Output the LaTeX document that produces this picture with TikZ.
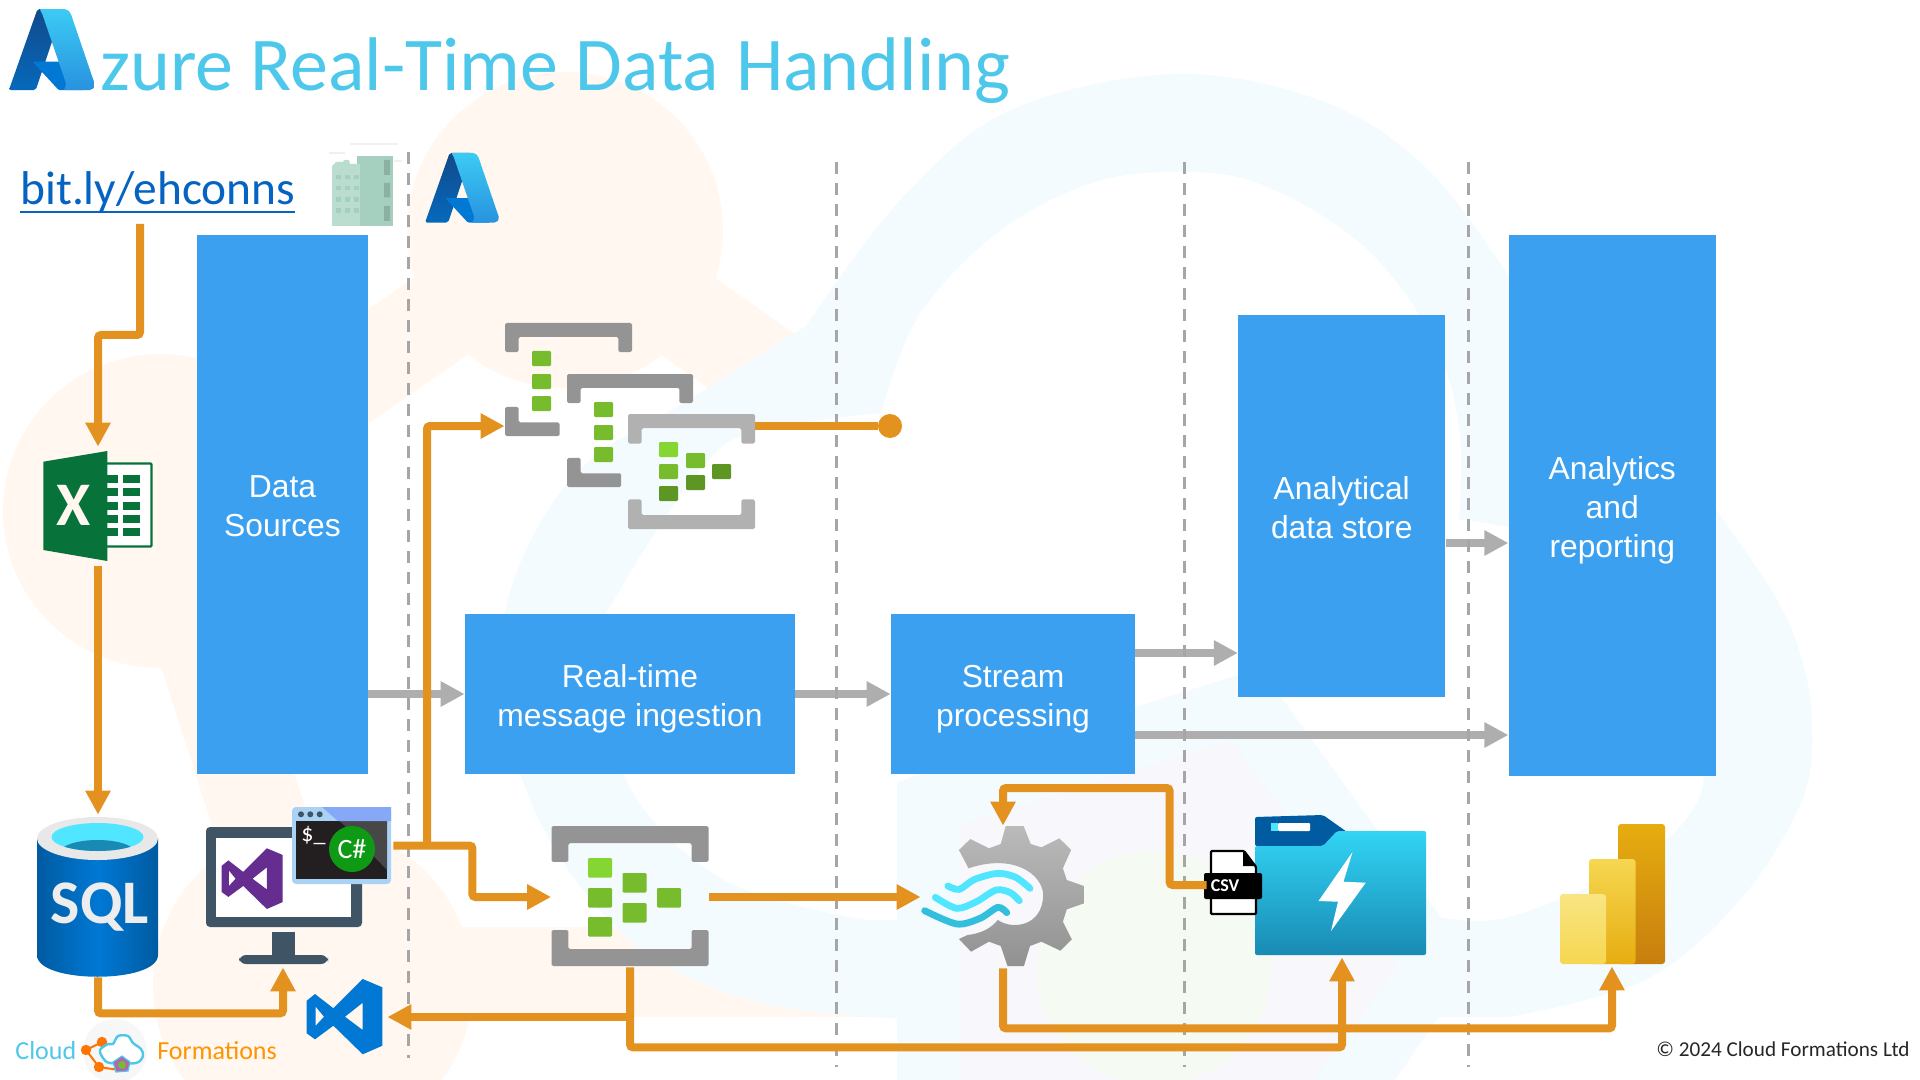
\documentclass[tikz,border=0pt]{standalone}
\usepackage{fontspec}
\usepackage{xcolor}
\usetikzlibrary{arrows.meta,calc,positioning}
\setmainfont{Carlito}
\newfontfamily\boxfont{Liberation Sans}
\definecolor{azTitle}{HTML}{4DC8EA}
\definecolor{azLink}{HTML}{0563C1}
\definecolor{azBox}{HTML}{3CA0F0}
\definecolor{azOrange}{HTML}{E39220}
\definecolor{azGrey}{HTML}{AEAEAE}
\definecolor{azDash}{HTML}{A6A6A6}
\definecolor{azPeach}{HTML}{FFF7F0}
\definecolor{azMist}{HTML}{F3FBFE}
\definecolor{azLilac}{HTML}{F8F7FC}
\definecolor{azSage}{HTML}{F5FAF2}
\definecolor{azNavy}{HTML}{114A8B}
\definecolor{azDeep}{HTML}{0669BC}
\definecolor{azCore}{HTML}{0078D4}
\definecolor{azSky}{HTML}{3CCBF4}
\definecolor{azSea}{HTML}{2892DF}
\definecolor{hubDark}{HTML}{949494}
\definecolor{hubPale}{HTML}{B1B1B1}
\definecolor{cellHi}{HTML}{86D633}
\definecolor{cellMid}{HTML}{76BC2D}
\definecolor{cellLow}{HTML}{5E9624}
\definecolor{xlGreen}{HTML}{07733B}
\definecolor{sqlEdge}{HTML}{005BA1}
\definecolor{sqlRim}{HTML}{E8E8E8}
\definecolor{azCyan}{HTML}{50E6FF}
\definecolor{azTeal}{HTML}{32BEDD}
\definecolor{deskSlate}{HTML}{3F5565}
\definecolor{vsPurple}{HTML}{652D90}
\definecolor{conFrame}{HTML}{A9D2F4}
\definecolor{conBlack}{HTML}{231F20}
\definecolor{conGreen}{HTML}{0E9A14}
\definecolor{farmTop}{HTML}{32D4F5}
\definecolor{farmLow}{HTML}{198AB3}
\definecolor{pbiA}{HTML}{E6AD10}
\definecolor{pbiB}{HTML}{C87E0E}
\definecolor{pbiC}{HTML}{F6D751}
\definecolor{pbiD}{HTML}{F9E583}
\definecolor{towerA}{HTML}{BBDDD0}
\definecolor{towerB}{HTML}{A5CFBE}
\tikzset{
 stage/.style={fill=azBox,inner sep=0pt},
 stagetext/.style={text=white,inner sep=0pt,align=center,
   font=\boxfont\fontsize{15.9}{19.5}\selectfont},
 iconspot/.style={inner sep=0pt,minimum width=#1},
 flow/.style={draw=azOrange,line width=4pt,rounded corners=1.5pt,-{Triangle[length=12pt,width=12pt]}},
 flowplain/.style={draw=azOrange,line width=4pt,rounded corners=1.5pt},
 pipe/.style={draw=azGrey,line width=4.2pt,-{Triangle[length=12pt,width=12pt]}},
 lane/.style={draw=azDash,line width=1.5pt,dash pattern=on 6pt off 4.5pt},
 dotend/.style={circle,fill=azOrange,inner sep=0pt,minimum size=12pt},
 cell/.style={rounded corners=.6pt}
}
\newcommand{\azureLogo}[3]{%
 \begin{scope}[shift={(#1,#2)},x=#3pt,y=-#3pt]
 \shade[top color=azNavy,bottom color=azDeep,rounded corners=1pt]
   (33.3,6.5)--(59.4,6.5)--(31.5,89.5)--(4,89.5)--cycle;
 \fill[azCore,rounded corners=.6pt] (71.2,60.3)--(28,60.3)--(55,89.5)--(81,89.5)--cycle;
 \shade[top color=azSky,bottom color=azSea,rounded corners=1pt]
   (35,6.5)--(63,6.5)--(67,10)--(92.5,85)--(89,89.5)--(60,89.5)--(63,84)--(37.5,9.5)--cycle;
 \end{scope}}
\newcommand{\vsLogo}[4]{%
 \begin{scope}[shift={(#1,#2)},x=#3pt,y=-#3pt]
 \fill[#4,even odd rule] (56,0)--(75.7,8.3)--(75.7,66.7)--(56,75.3)--(26.7,46.7)--(8.3,60.3)--(0,54.3)
   --(0,21.7)--(8.3,15)--(26.7,29.3)--cycle
   (9,27.7)--(17.3,37.7)--(9,46.7)--cycle (56,23.7)--(56,51)--(38.3,37.7)--cycle;
 \end{scope}}
\newcommand{\hubTop}[5]{%
 \begin{scope}[shift={(#1,#2)},x=#3pt,y=-#4pt]
 \fill[#5,rounded corners=.8pt] (0,.257)--(0,0)--(1,0)--(1,.257)--(.892,.257)--(.892,.122)--(.108,.122)--(.108,.257)--cycle;
 \end{scope}}
\newcommand{\hubBottom}[5]{%
 \begin{scope}[shift={(#1,#2)},x=#3pt,y=-#4pt]
 \fill[#5,rounded corners=.8pt] (0,.743)--(.108,.743)--(.108,.879)--(.892,.879)--(.892,.743)--(1,.743)--(1,1)--(0,1)--cycle;
 \end{scope}}
\newcommand{\hubFoot}[5]{%
 \begin{scope}[shift={(#1,#2)},x=#3pt,y=-#4pt]
 \fill[#5,rounded corners=.8pt] (0,.743)--(.108,.743)--(.108,.879)--(.43,.879)--(.43,1)--(0,1)--cycle;
 \end{scope}}
\newcommand{\linkline}[1]{\setbox0=\hbox{#1}\rlap{\rule[-4pt]{\wd0}{1.1pt}}\box0}
\begin{document}
\begin{tikzpicture}[x=.5pt,y=-.5pt]
 \useasboundingbox (0,0) rectangle (1920,1080);
 \clip (0,0) rectangle (1920,1080);
 % watermark
 \fill[azPeach] (565,230) circle[radius=79pt] (160,511) circle[radius=78.5pt] (313,985) circle[radius=80pt];
 \draw[azPeach,line width=47pt] (160,511)--(565,230)--(800,395);
 \draw[azPeach,line width=47pt] (160,511)--(313,985);
 \fill[azPeach] (313,927) rectangle (885,1017);
 \fill[azMist] plot[smooth,tension=.6] coordinates {(887,1018)(750,1000)(626,937)(530,800)(502,630)(569,481)(695,396)(806,326)}
   -- plot[smooth,tension=.6] coordinates {(806,326)(902,198)(1011,110)(1175,74)(1322,101)(1424,166)(1509,276)(1600,420)(1715,508)}
   -- plot[smooth,tension=.6] coordinates {(1715,508)(1773,593)(1800,653)(1812,723)(1802,800)(1740,900)(1645,980)(1509,1017)}
   -- (1439,1017) -- cycle;
 \fill[white] plot[smooth,tension=.6] coordinates {(881,413)(918,317)(996,234)(1089,184)(1175,172)(1260,184)(1361,244)(1431,335)(1459,427)(1459,519)}
   -- (1509,527) -- (1600,545)
   -- plot[smooth,tension=.6] coordinates {(1600,545)(1670,640)(1698,730)(1698,800)(1635,863)(1509,917)(1439,917)}
   -- (867,920)
   -- plot[smooth,tension=.6] coordinates {(867,920)(724,880)(626,780)(604,640)(620,590)(700,470)(756,431)(881,413)} -- cycle;
 \fill[azMist] (897,782)--(1260,668)--(1475,965)--(1395,1080)--(897,1080)--cycle;
 \fill[azLilac] (959,825)--(1231,740)--(1397,967)--(1315,1080)--(959,1080)--cycle;
 \fill[azSage] (1154,968) circle[radius=58.5pt];
 % title
 \azureLogo{5}{2.7}{.488}
 \node[anchor=base west,inner sep=0pt,text=azTitle,font=\fontsize{38}{38}\selectfont] (title) at (100,91) {zure Real-Time Data Handling};
 \node[anchor=base west,inner sep=0pt,text=azLink,font=\fontsize{23.7}{23.7}\selectfont] (link) at (20,205) {\linkline{bit.ly/ehconns}};
 % building
 \draw[draw=black!6,line width=1pt] (350,144)--(398,144) (329,153)--(345,153) (394,161)--(402,161);
 \fill[towerB] (357,156) rectangle (393,226);
 \fill[towerA] (332,166)--(336,162)--(343,162)--(344,160)--(349,160)--(350,164)--(360,164)--(360,226)--(332,226)--cycle;
 \foreach \wy in {175,186,197.5,208.5}
   \foreach \wx in {335.6,344.7,354}
     \fill[towerB] (\wx,\wy) rectangle ++(5,4.5);
 \fill[towerB!85!black] (384,160) rectangle (390,175) (384,183) rectangle (390,197.5) (384,206) rectangle (390,221);
 \azureLogo{421.7}{147.4}{.42}
 % stages
 \node[stage,minimum width=85.5pt,minimum height=269.5pt] (dsbox) at (282.5,504.5) {};
 \node[stage,minimum width=165pt,minimum height=80pt] (rtbox) at (630,694) {};
 \node[stage,minimum width=122pt,minimum height=80pt] (stbox) at (1013,694) {};
 \node[stage,minimum width=103.5pt,minimum height=191pt] (anabox) at (1341.75,506) {};
 \node[stage,minimum width=103.5pt,minimum height=270.5pt] (repbox) at (1612.25,505.5) {};
 \node[stagetext] (dstext) at ([yshift=-.8pt]dsbox.center) {Data\\Sources};
 \node[stagetext] (rttext) at ([yshift=-2.5pt]rtbox.center) {Real-time\\message ingestion};
 \node[stagetext] (sttext) at ([yshift=-2.5pt]stbox.center) {Stream\\processing};
 \node[stagetext] (anatext) at ([yshift=-.8pt]anabox.center) {Analytical\\data store};
 \node[stagetext] (reptext) at ([yshift=-2.5pt]repbox.center) {Analytics\\and\\reporting};
 % icon spots
 \node[iconspot=54.5pt,minimum height=59.5pt] (excel) at (98,506.5) {};
 \node[iconspot=60.5pt,minimum height=81pt] (sqldb) at (98,896) {};
 \node[iconspot=79pt,minimum height=70pt] (vsdesk) at (283,897) {};
 \node[iconspot=51.5pt,minimum height=39pt] (console) at (341.5,845.5) {};
 \node[iconspot=42pt,minimum height=37.5pt] (vscode) at (345,1017) {};
 \node[iconspot=125pt,minimum height=103pt] (stack) at (630,426) {};
 \node[iconspot=78.5pt,minimum height=70pt] (hub) at (630,897) {};
 \node[iconspot=82pt,minimum height=71pt] (gear) at (1003,897) {};
 \node[iconspot=27pt,minimum height=30pt] (csvfile) at (1234,885) {};
 \node[iconspot=86pt,minimum height=71pt] (folder) at (1342,886) {};
 \node[iconspot=53pt,minimum height=71pt] (pbi) at (1612,895) {};
 \node[dotend] (dot) at (890,426) {};
 \coordinate (linkout) at (140,224);
 \coordinate (fork) at (427,845.5);
 \coordinate (hubjoin) at (630,1017);
 \coordinate (stTop) at ([yshift=20.5pt]stbox.east);
 \coordinate (stLow) at ([yshift=-20.5pt]stbox.east);
 \coordinate (anaOut) at ([yshift=-18.5pt]anabox.east);
 % excel
 \fill[white,draw=xlGreen,line width=1.2pt,rounded corners=.5pt] (100,463.5) rectangle (151.5,546.5);
 \foreach \ry in {475,488,501.5,515,528} {
   \fill[xlGreen] (107,\ry) rectangle (117.5,\ry+8.3);
   \fill[xlGreen] (122.5,\ry) rectangle (139.5,\ry+8.3);
 }
 \fill[xlGreen] (43.3,461.7)--(107.3,451)--(107.3,561)--(43.3,550)--cycle;
 \node[inner sep=0pt,text=white!94!orange,font=\bfseries\fontsize{31}{31}\selectfont] (xlmark) at (74,505) {X};
 % sql
 \shade[left color=sqlEdge,right color=sqlEdge,middle color=azCore]
   (37,838) -- (37,955) .. controls (37,984) and (158,984) .. (158,955) -- (158,838) -- cycle;
 \fill[sqlRim] (97.5,838.5) ellipse[x radius=60.5,y radius=21.5];
 \fill[azCyan] (97.5,837) ellipse[x radius=46,y radius=14];
 \begin{scope}
 \clip (97.5,837) ellipse[x radius=46,y radius=14];
 \fill[farmLow] (97.5,853) ellipse[x radius=38,y radius=13];
 \end{scope}
 \node[inner sep=0pt,text=white!93!black,font=\bfseries\fontsize{31}{31}\selectfont] (sqlmark) at (100,907) {SQL};
 % visual studio desktop
 \fill[deskSlate,rounded corners=2pt] (206,827) rectangle (362,927);
 \fill[white] (216,838) rectangle (351,917);
 \fill[deskSlate] (272,932) rectangle (295,955);
 \fill[deskSlate,rounded corners=3.5pt] (239,964)--(239,955)--(328,955)--(328,964)--cycle;
 \vsLogo{221.7}{848.3}{.403}{vsPurple}
 % console
 \fill[conFrame,rounded corners=2pt] (292,884)--(292,807)--(391,807)--(391,884)--cycle;
 \fill[conBlack] (296,821) rectangle (387,879);
 \fill[black!72] (340,821)--(387,821)--(387,870)--cycle;
 \fill[conFrame!80!blue] (322,807)--(391,807)--(391,821)--(338,821)--cycle;
 \foreach \cx in {301,310.3,319.7} \fill[deskSlate] (\cx,814.3) circle[radius=1.5pt];
 \node[anchor=base west,inner sep=0pt,text=white,font=\fontsize{12}{12}\selectfont] (conprompt) at (301,841) {\$\_};
 \fill[conGreen] (352,849) circle[radius=11.5pt];
 \node[inner sep=0pt,text=white,font=\fontsize{14}{14}\selectfont] (conmark) at (352,849) {C\#};
 % vs code
 \vsLogo{306.7}{979}{.5}{azCore}
 % stacked hubs
 \hubTop{505}{323}{63.5}{56.5}{hubDark}
 \hubFoot{505}{323}{63.5}{56.5}{hubDark}
 \foreach \ry in {351,374,396} \fill[cellMid,cell] (532,\ry) rectangle ++(19,15);
 \hubTop{567}{374}{63}{56.5}{hubDark}
 \hubFoot{567}{374}{63}{56.5}{hubDark}
 \foreach \ry in {402,425,447} \fill[cellMid,cell] (594,\ry) rectangle ++(19,15);
 \hubTop{628}{414}{63.5}{57.5}{hubPale}
 \hubBottom{628}{414}{63.5}{57.5}{hubPale}
 \foreach \cx/\ry/\rc in {659/442/cellHi,659/464/cellMid,659/486/cellLow,686/453/cellMid,686/475/cellLow,712/464/cellLow}
   \fill[\rc,cell] (\cx,\ry) rectangle ++(19,15);
 % single hub
 \hubTop{551.5}{826}{78.5}{70}{hubDark}
 \hubBottom{551.5}{826}{78.5}{70}{hubDark}
 \foreach \cx/\ry/\rc in {588/858/cellHi,588/888/cellMid,588/917/cellMid,622.5/873/cellMid,622.5/903/cellMid,657/888/cellMid}
   \fill[\rc,cell] (\cx,\ry) rectangle ++(24,19.5);
 % stream gear
 \begin{scope}[shift={(880,760)},x=.17857pt,y=-.16667pt]
 \shade[top color=black!27,bottom color=black!43] (352,198)--(402,198)--(422,252)--(452,262)--(502,235)--(535,270)--(512,325)--(523,360)--(571,378)--(571,430)--(523,448)--(512,485)--(537,538)--(505,572)--(452,545)--(420,558)--(403,618)--(357,618)--(338,558)--(305,545)--(255,575)--(221,537)--(245,525) .. controls (285,520) and (310,505) .. (330,480) .. controls (370,510) and (455,500) .. (457,405) .. controls (455,340) and (370,280) .. (248,325)--(221,270)--(253,237)--(305,265)--(338,252)--cycle;
 \draw[azCyan,line width=3.4pt,line cap=round] plot[smooth] coordinates {(190,378)(222,388)(265,358)(330,340)(380,352)(420,385)};
 \draw[azCyan,line width=3.4pt,line cap=round] plot[smooth] coordinates {(155,412)(215,445)(270,425)(325,390)(365,398)(390,422)};
 \draw[azTeal,line width=3.4pt,line cap=round] plot[smooth] coordinates {(125,452)(215,492)(280,475)(330,442)(355,458)};
 \end{scope}
 % folder
 \fill[sqlEdge,rounded corners=1pt] (1255,817)--(1323,815)--(1347,832)--(1323,846)--(1255,846)--cycle;
 \fill[white,rounded corners=.5pt] (1278,823) rectangle (1310,831);
 \fill[azCyan] (1271,823) rectangle (1278,831);
 \shade[top color=farmTop,bottom color=farmLow,rounded corners=1pt] (1255,846)--(1323,846)--(1337,831)--(1426,831)--(1426,955)--(1255,955)--cycle;
 \fill[white] (1352.5,852)--(1318.5,901)--(1338,901.7)--(1331,931)--(1365.7,882.7)--(1343.5,881.7)--cycle;
 % csv
 \fill[white,draw=black,line width=1.1pt,rounded corners=.5pt] (1211,851)--(1244,851)--(1256,867)--(1256,914)--(1211,914)--cycle;
 \fill[black] (1243,851)--(1256,866)--(1243,866)--cycle;
 \fill[black,rounded corners=1pt] (1204,873) rectangle (1262,899);
 \node[inner sep=0pt,text=white,font=\bfseries\fontsize{9}{9}\selectfont] (csvlabel) at (1225,886) {CSV};
 % power bi
 \shade[top color=pbiA,bottom color=pbiB,rounded corners=1.5pt] (1618,824) rectangle (1665,964);
 \shade[top color=pbiC,bottom color=pbiA,rounded corners=1.5pt] (1589,859) rectangle (1635.5,964);
 \shade[top color=pbiD,bottom color=pbiC,rounded corners=1.5pt] (1560,894) rectangle (1606,964);
 % brand
 \fill[black!3] (115,1051) circle[radius=16pt];
 \draw[orange!90!red,line width=1pt] (102,1042)--(86,1050)--(99,1067)--(119,1070);
 \fill[orange!90!red] (102,1042) circle[radius=2.6pt] (86,1050) circle[radius=2.6pt] (99,1067) circle[radius=2.6pt];
 \draw[azTitle,fill=white,line width=1.2pt] plot[smooth cycle] coordinates {(103,1058)(100,1050)(108,1044)(113,1044)(118,1036)(128,1036)(133,1043)(141,1049)(143,1056)(136,1063)(110,1063)};
 \fill[violet!60,draw=azTitle,line width=.6pt] (122,1056)--(130,1062)--(128,1071)--(116,1072)--(113,1062)--cycle;
 \fill[cellMid] (122,1065) circle[radius=2pt];
 \node[anchor=base west,inner sep=0pt,text=azTitle,font=\fontsize{13}{13}\selectfont] (brandA) at (15,1059) {Cloud};
 \node[anchor=base west,inner sep=0pt,text=orange!85!yellow,font=\fontsize{13}{13}\selectfont] (brandB) at (157,1059) {Formations};
 \node[anchor=base east,inner sep=0pt,text=black!85,font=\fontsize{10.6}{10.6}\selectfont] (rights) at (1910,1056) {\textcopyright{} 2024 Cloud Formations Ltd};
 % grey pipes
 \draw[pipe] (dsbox.east |- rtbox.west)--(rtbox.west);
 \draw[pipe] (rtbox.east)--(stbox.west);
 \draw[pipe] (stTop)--(stTop -| anabox.west);
 \draw[pipe] (stLow)--(stLow -| repbox.west);
 \draw[pipe] (anaOut)--(anaOut -| repbox.west);
 % lanes
 \draw[lane] (408,152)--(408,1058);
 \draw[lane] (836,162)--(836,1067);
 \draw[lane] (1184.5,162)--(1184.5,1067);
 \draw[lane] (1468.5,162)--(1468.5,1067);
 % orange flows
 \draw[flow] (linkout)--++(0,111) -| (excel.north);
 \draw[flow] (excel.south)--(sqldb.north);
 \draw[flow] (sqldb.south)--++(0,36) -| (vsdesk.south);
 \draw[flow] (console.east)--++(79,0) |- (hub.west);
 \draw[flow] (fork) |- (stack.west);
 \draw[flowplain] (stack.east)--(dot);
 \draw[flow] (hub.east)--(gear.west);
 \draw[flow] (hub.south)--++(0,80) -| (folder.south);
 \draw[flow] (hubjoin)--(vscode.east);
 \draw[flow] (gear.south)--++(0,60) -| (pbi.south);
 \draw[flow] (csvfile.west)--++(-37,0)--++(0,-97) -| (gear.north);
\end{tikzpicture}
\end{document}
